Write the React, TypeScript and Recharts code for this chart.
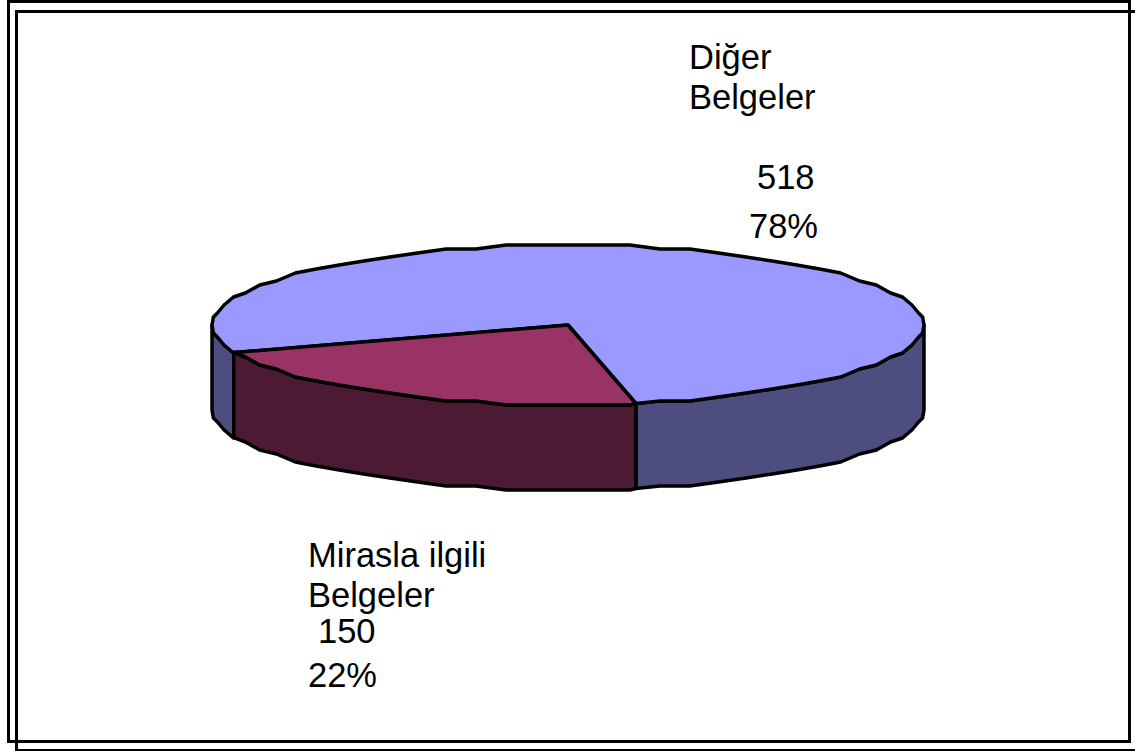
import { Pie, PieChart } from 'recharts';

const categories = ['Diğer Belgeler', 'Mirasla ilgili Belgeler'];
const counts = [518, 150];
const percents = ['78%', '22%'];
const topColors = ['#9999FF', '#993366'];
const wallColors = ['#4D4D80', '#4D1A33'];

const chartData = categories.map((name, i) => ({
  name,
  value: counts[i],
  fill: topColors[i],
  wall: wallColors[i],
}));

const WIDTH = 1135;
const HEIGHT = 751;
const SQUASH = 80 / 356;
const DEPTH = 85;
const STEP = 5;
const FONT = '"Liberation Sans", Arial, sans-serif';

// one label per category: [text, x, baseline]
const labelLines: [string, number, number][][] = [
  [
    ['Diğer', 689, 69],
    ['Belgeler', 689, 109],
    [String(counts[0]), 757, 189],
    [percents[0], 749, 238],
  ],
  [
    ['Mirasla ilgili', 308, 567],
    ['Belgeler', 308, 607],
    [String(counts[1]), 318, 643],
    [percents[1], 308, 687],
  ],
];

// the original outline is coarse: sample at whole steps and snap the heights,
// the same way for top and walls so their edges stay on each other
function ellipsePoints(cx: number, cy: number, r: number, from: number, to: number, dy = 0) {
  const lo = Math.min(from, to);
  const hi = Math.max(from, to);
  const angles = [lo];
  for (let a = Math.ceil(lo / STEP + 1e-6) * STEP; a < hi; a += STEP) angles.push(a);
  angles.push(hi);
  if (from > to) angles.reverse();

  return angles.map((a) => {
    const rad = (a * Math.PI) / 180;
    const x = r * Math.cos(rad);
    let y = r * SQUASH * Math.sin(rad);
    if (a !== from && a !== to) y = Math.round(y / 4) * 4;
    return `${(cx + x).toFixed(1)} ${(cy - y + dy).toFixed(1)}`;
  });
}

function Slab(props: any) {
  const { cx, cy, outerRadius: r, startAngle, endAngle, fill, payload } = props;
  const lo = Math.min(startAngle, endAngle);
  const hi = Math.max(startAngle, endAngle);
  // front of the slab is where the angle points below the centre
  const windows = [
    [-180, 0],
    [180, 360],
  ];
  const walls = windows
    .map(([a, b]) => [Math.max(a, lo), Math.min(b, hi)])
    .filter(([a, b]) => b > a);
  const top = ellipsePoints(cx, cy, r, lo, hi);

  return (
    <g stroke="#000" strokeWidth={3.5} strokeLinejoin="round">
      {walls.map(([a, b]) => {
        const upper = ellipsePoints(cx, cy, r, a, b);
        const lower = ellipsePoints(cx, cy, r, b, a, DEPTH);
        return <path key={a} d={`M${upper.join('L')}L${lower.join('L')}Z`} fill={payload.wall ?? props.wall} />;
      })}
      <path d={`M${cx} ${cy}L${top.join('L')}Z`} fill={fill} />
    </g>
  );
}

function renderLabel(props: any) {
  const lines = labelLines[props.index];
  return (
    <g key={props.index}>
      {lines.map(([text, x, y]) => (
        <text key={text + y} x={x} y={y} fontFamily={FONT} fontSize={34.5} fill="#000">
          {text}
        </text>
      ))}
    </g>
  );
}

export default function App() {
  return (
    <div style={{ position: 'fixed', left: 0, top: 0, width: WIDTH, height: HEIGHT, background: '#fff', overflow: 'hidden' }}>
      <div style={{ position: 'absolute', left: 7, top: 0, width: 1118, height: 737, border: '3px solid #000' }} />
      <div style={{ position: 'absolute', left: 15, top: 10, width: 1119, height: 736, border: '3px solid #000' }} />
      <div style={{ position: 'absolute', left: 0, top: 0 }}>
        <PieChart width={WIDTH} height={HEIGHT} margin={{ top: 0, right: 0, bottom: 0, left: 0 }}>
          <Pie
            data={chartData}
            dataKey="value"
            nameKey="name"
            cx={568}
            cy={325}
            innerRadius={0}
            outerRadius={356}
            startAngle={-79}
            endAngle={281}
            paddingAngle={0}
            shape={Slab}
            label={renderLabel}
            labelLine={false}
            isAnimationActive={false}
          />
        </PieChart>
      </div>
    </div>
  );
}
